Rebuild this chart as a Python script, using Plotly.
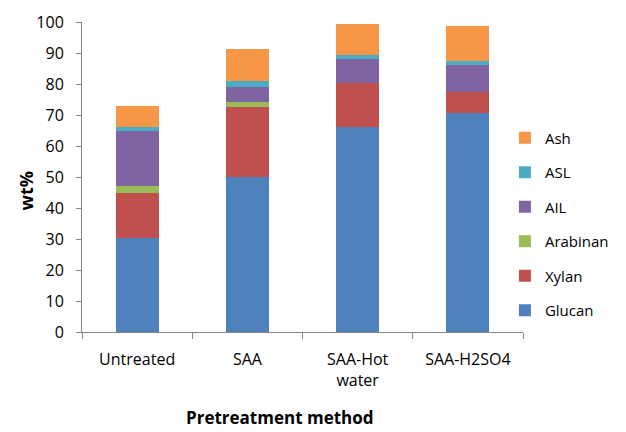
import plotly.graph_objects as go

categories = ["Untreated", "SAA", "SAA-Hot<br>water", "SAA-H2SO4"]
glucan = [30.4, 49.9, 66.1, 70.5]
xylan = [14.3, 22.6, 14.1, 7.0]
arabinan = [2.5, 1.6, 0.0, 0.0]
ail = [17.6, 4.8, 7.8, 8.5]
asl = [1.3, 2.2, 1.5, 1.4]
ash = [6.9, 10.1, 10.0, 11.2]

series = [
    ("Glucan", glucan, "#4F81BD"),
    ("Xylan", xylan, "#C0504D"),
    ("Arabinan", arabinan, "#9BBB59"),
    ("AIL", ail, "#8064A2"),
    ("ASL", asl, "#4BACC6"),
    ("Ash", ash, "#F79646"),
]

FONT = "Open Sans"

fig = go.Figure()
n = len(series)
for i, (name, vals, color) in enumerate(series):
    fig.add_trace(go.Bar(
        name=name, x=categories, y=vals,
        marker=dict(color=color, line=dict(width=0)),
        legendgroup=name, legendrank=n - i,
    ))

fig.update_layout(
    width=618, height=424,
    barmode="stack", bargap=0.61,
    paper_bgcolor="white", plot_bgcolor="white",
    margin=dict(l=74, r=92, t=14, b=100),
    font=dict(family=FONT, size=14, color="#000000"),
    showlegend=True,
    legend=dict(
        traceorder="grouped", tracegroupgap=12,
        x=0.959, xanchor="left", y=0.679, yanchor="top",
        font=dict(family=FONT, size=15, color="#000000"),
        bgcolor="rgba(0,0,0,0)",
    ),
    xaxis=dict(
        range=[-0.5, 3.5], showline=True, linecolor="#868686", linewidth=1,
        ticks="outside", tickson="boundaries", ticklen=6, tickcolor="#868686",
        tickfont=dict(family=FONT, size=16), ticklabelstandoff=13,
        showgrid=False, zeroline=False, automargin=False,
    ),
    yaxis=dict(
        range=[0, 100], dtick=10, showline=True, linecolor="#868686", linewidth=1,
        ticks="outside", ticklen=5, tickcolor="#868686",
        tickfont=dict(family=FONT, size=16), ticklabelstandoff=9,
        showgrid=False, zeroline=False, automargin=False,
    ),
    annotations=[
        dict(text="<b>wt%</b>", xref="paper", yref="paper", x=-0.128, y=0.455,
             xanchor="center", yanchor="middle", textangle=-90, showarrow=False,
             font=dict(family=FONT, size=18)),
        dict(text="<b>Pretreatment method</b>", xref="paper", yref="paper",
             x=0.449, y=-0.32,
             xanchor="center", yanchor="bottom", showarrow=False,
             font=dict(family=FONT, size=17)),
    ],
)

fig.write_html("out.html")
